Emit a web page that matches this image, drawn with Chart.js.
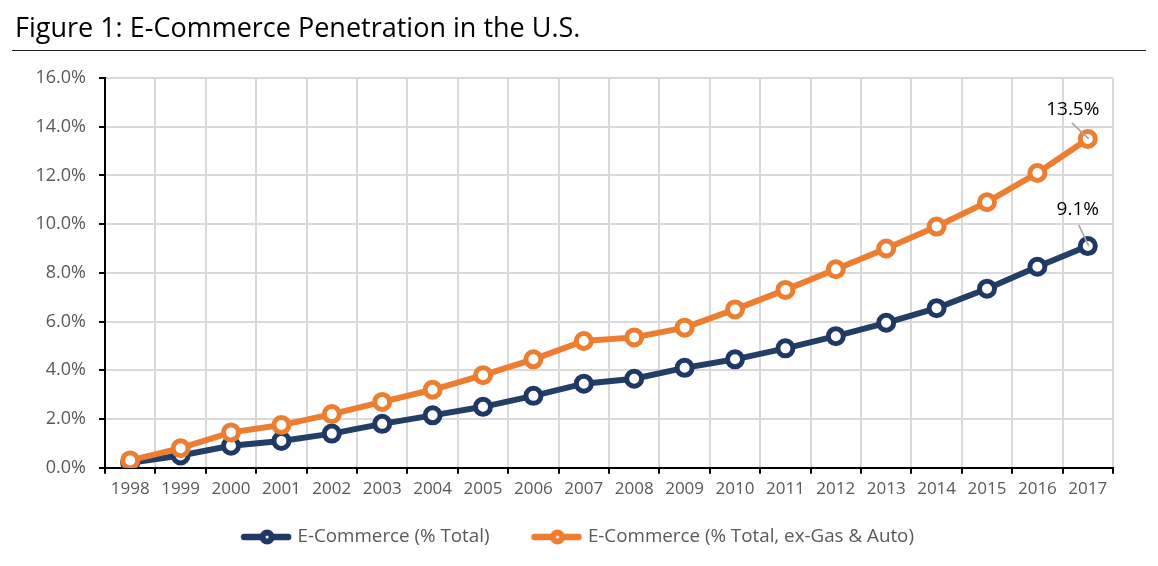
<!DOCTYPE html>
<html>
<head>
<meta charset="utf-8">
<script src="https://cdn.jsdelivr.net/npm/chart.js@4.4.1/dist/chart.umd.min.js"></script>
<style>
  html, body { margin: 0; padding: 0; background: #fff; }
  #wrap { position: relative; width: 1158px; height: 566px; overflow: hidden; }
  #title { position: absolute; left: 15px; top: 8px; font-family: "Open Sans", Lato, sans-serif; font-size: 27px; line-height: normal; color: #000; white-space: nowrap; }
  #rule { position: absolute; left: 12px; top: 50px; width: 1134px; height: 1px; background: #222; }
  #c { position: absolute; left: 0; top: 0; }
</style>
</head>
<body>
<div id="wrap">
  <canvas id="c" width="1158" height="566"></canvas>
  <div id="title">Figure 1: E-Commerce Penetration in the U.S.</div>
  <div id="rule"></div>
</div>
<script>
const years = ['1998','1999','2000','2001','2002','2003','2004','2005','2006','2007','2008','2009','2010','2011','2012','2013','2014','2015','2016','2017'];
const ecomTotal = [0.2, 0.5, 0.9, 1.1, 1.4, 1.8, 2.15, 2.5, 2.95, 3.45, 3.65, 4.1, 4.45, 4.9, 5.4, 5.95, 6.55, 7.35, 8.25, 9.1];
const ecomExGasAuto = [0.3, 0.8, 1.45, 1.75, 2.2, 2.7, 3.2, 3.8, 4.45, 5.2, 5.35, 5.75, 6.5, 7.3, 8.15, 9.0, 9.9, 10.9, 12.1, 13.5];
const seriesNames = ['E-Commerce (% Total)', 'E-Commerce (% Total, ex-Gas & Auto)'];
const endLabels = ['9.1%', '13.5%'];
const yTicksMin = 0, yTicksMax = 16, yStep = 2;

const NAVY = '#1F3864', NAVY_LINE = '#243F66', ORANGE = '#ED7D31';
const FONT = '"Open Sans", Lato, sans-serif';
const LEGEND_FONT = 18.8, LEGEND_PAD = 45, LEGEND_CENTER_Y = 537;

function legendIcon(color) {
  const cv = document.createElement('canvas');
  cv.width = 52; cv.height = 16;
  const g = cv.getContext('2d');
  g.strokeStyle = color; g.lineWidth = 6.5; g.lineCap = 'round';
  g.beginPath(); g.moveTo(4, 8); g.lineTo(48, 8); g.stroke();
  g.fillStyle = color;
  g.beginPath(); g.arc(27, 8, 7.5, 0, Math.PI * 2); g.fill();
  g.fillStyle = '#fff';
  g.beginPath(); g.arc(27, 8, 1.5, 0, Math.PI * 2); g.fill();
  return cv;
}
const icons = [legendIcon(NAVY), legendIcon(ORANGE)];

const endLabelPlugin = {
  id: 'endLabels',
  afterLayout(chart) {
    const lg = chart.legend;
    if (!lg) return;
    const dy = (LEGEND_CENTER_Y - LEGEND_FONT / 2 - LEGEND_PAD) - lg.top;
    lg.top += dy; lg.bottom += dy;
    lg.left = 0; lg.right = chart.width; lg.width = chart.width;
  },
  afterDatasetsDraw(chart) {
    const ctx = chart.ctx;
    const specs = [
      { ds: 0, text: endLabels[0], tx: -10, ty: -36, lx1: -9, ly1: -21 },
      { ds: 1, text: endLabels[1], tx: -15, ty: -29, lx1: -16, ly1: -16 }
    ];
    ctx.save();
    specs.forEach(s => {
      const meta = chart.getDatasetMeta(s.ds);
      const pt = meta.data[meta.data.length - 1];
      ctx.strokeStyle = '#A6A6A6'; ctx.lineWidth = 1.5;
      ctx.beginPath(); ctx.moveTo(pt.x + s.lx1, pt.y + s.ly1); ctx.lineTo(pt.x + 1, pt.y); ctx.stroke();
      ctx.fillStyle = '#000';
      ctx.font = '19px ' + FONT;
      ctx.textAlign = 'center'; ctx.textBaseline = 'middle';
      ctx.fillText(s.text, pt.x + s.tx, pt.y + s.ty);
    });
    ctx.restore();
  }
};

new Chart(document.getElementById('c'), {
  type: 'line',
  data: {
    labels: years,
    datasets: [
      { label: seriesNames[0], data: ecomTotal, borderColor: NAVY_LINE, borderWidth: 6,
        pointBorderColor: NAVY, pointBackgroundColor: '#fff', pointRadius: 7.5, pointBorderWidth: 5,
        pointHoverRadius: 7.5, tension: 0, order: 2 },
      { label: seriesNames[1], data: ecomExGasAuto, borderColor: ORANGE, borderWidth: 6,
        pointBorderColor: ORANGE, pointBackgroundColor: '#fff', pointRadius: 7.5, pointBorderWidth: 5,
        pointHoverRadius: 7.5, tension: 0, order: 1 }
    ]
  },
  options: {
    responsive: false,
    animation: false,
    layout: { padding: { left: 0, right: 45, top: 78, bottom: -7.5 } },
    plugins: {
      tooltip: { enabled: false },
      legend: {
        position: 'bottom',
        labels: {
          usePointStyle: true,
          pointStyleWidth: 44,
          padding: LEGEND_PAD,
          color: '#595959',
          font: { family: FONT, size: LEGEND_FONT },
          generateLabels: (chart) => chart.data.datasets.map((d, i) => ({
            text: d.label, pointStyle: icons[i], fillStyle: d.borderColor, strokeStyle: d.borderColor,
            lineWidth: 0, hidden: false, datasetIndex: i, fontColor: '#595959'
          }))
        }
      }
    },
    scales: {
      x: {
        type: 'category',
        offset: true,
        grid: { offset: true, color: '#D9D9D9', lineWidth: 2, tickColor: '#000', tickLength: 6, tickWidth: 2 },
        border: { color: '#000', width: 2 },
        ticks: { color: '#595959', font: { family: FONT, size: 17 }, padding: 5, maxRotation: 0, autoSkip: false },
        afterFit: (s) => { s.height = 32; }
      },
      y: {
        min: yTicksMin, max: yTicksMax,
        grid: { color: '#D9D9D9', lineWidth: 2, tickColor: '#000', tickLength: 6, tickWidth: 2 },
        border: { color: '#000', width: 2 },
        ticks: { stepSize: yStep, color: '#595959', font: { family: FONT, size: 18 }, padding: 13,
          callback: (v) => v.toFixed(1) + '%' },
        afterFit: (s) => { s.width = 105; }
      }
    }
  },
  plugins: [endLabelPlugin]
});
</script>
</body>
</html>
